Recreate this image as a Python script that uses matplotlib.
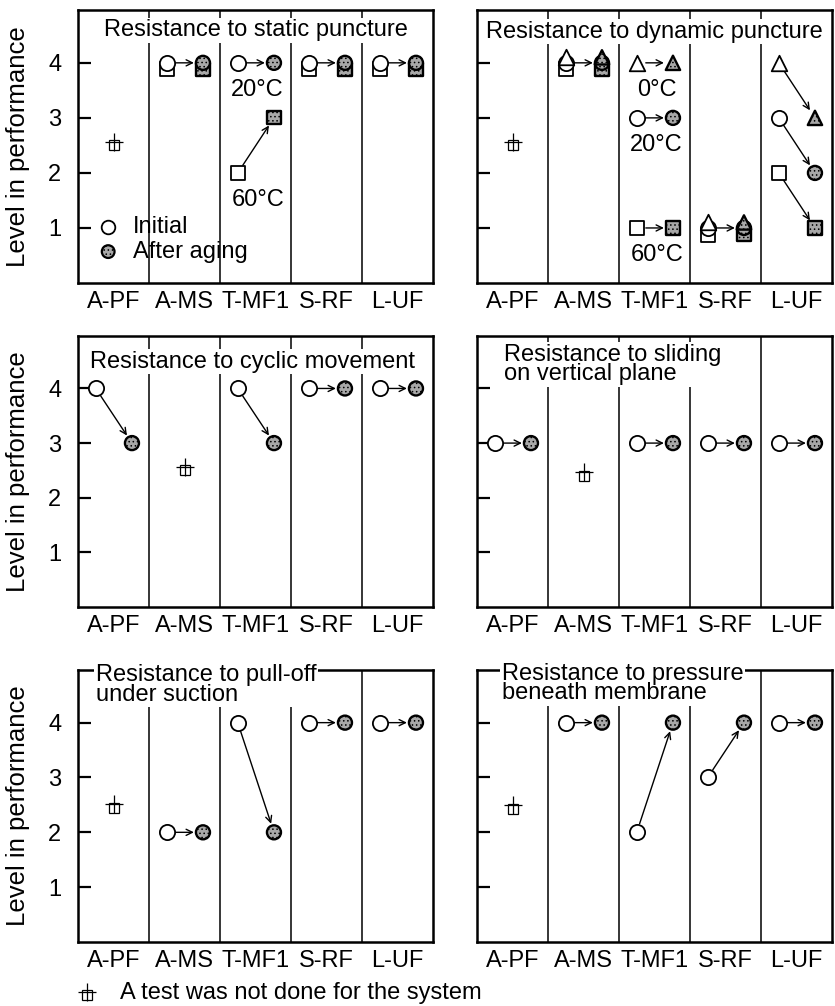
import numpy as np
import matplotlib
matplotlib.use("Agg")
import matplotlib.pyplot as plt

plt.rcParams["font.family"] = ["Liberation Sans", "DejaVu Sans"]
plt.rcParams["hatch.linewidth"] = 0.6

nan = np.nan

systems = ["A-PF", "A-MS", "T-MF1", "S-RF", "L-UF"]

titles = [
    "Resistance to static puncture",
    "Resistance to dynamic puncture",
    "Resistance to cyclic movement",
    "Resistance to sliding\non vertical plane",
    "Resistance to pull-off\nunder suction",
    "Resistance to pressure\nbeneath membrane",
]

# column where no test was done, and where its symbol sits
not_tested_col = [0, 0, 1, 1, 0, 0]
not_tested_lvl = [2.55, 2.55, 2.55, 2.45, 2.5, 2.47]

# static puncture: circle = 20 C, square = 60 C
static_circ_init = [nan, 4, 4, 4, 4]
static_circ_aged = [nan, 4, 4, 4, 4]
static_sq_init = [nan, 4, 2, 4, 4]
static_sq_aged = [nan, 4, 3, 4, 4]

# dynamic puncture: triangle = 0 C, circle = 20 C, square = 60 C
dyn_tri_init = [nan, 4, 4, 1, 4]
dyn_tri_aged = [nan, 4, 4, 1, 3]
dyn_circ_init = [nan, 4, 3, 1, 3]
dyn_circ_aged = [nan, 4, 3, 1, 2]
dyn_sq_init = [nan, 4, 1, 1, 2]
dyn_sq_aged = [nan, 4, 1, 1, 1]

cyclic_init = [4, nan, 4, 4, 4]
cyclic_aged = [3, nan, 3, 4, 4]

sliding_init = [3, nan, 3, 3, 3]
sliding_aged = [3, nan, 3, 3, 3]

pulloff_init = [nan, 2, 4, 4, 4]
pulloff_aged = [nan, 2, 2, 4, 4]

pressure_init = [nan, 4, 2, 3, 4]
pressure_aged = [nan, 4, 4, 4, 4]

panels = [
    [("o", static_circ_init, static_circ_aged), ("s", static_sq_init, static_sq_aged)],
    [("^", dyn_tri_init, dyn_tri_aged), ("o", dyn_circ_init, dyn_circ_aged),
     ("s", dyn_sq_init, dyn_sq_aged)],
    [("o", cyclic_init, cyclic_aged)],
    [("o", sliding_init, sliding_aged)],
    [("o", pulloff_init, pulloff_aged)],
    [("o", pressure_init, pressure_aged)],
]

# temperature labels: (panel, column, level, text)
temp_labels = [
    (0, 2, 3.5, "20°C"), (0, 2, 1.5, "60°C"),
    (1, 2, 3.5, "0°C"), (1, 2, 2.5, "20°C"), (1, 2, 0.5, "60°C"),
]

# styling
FS = 17
X_INIT, X_AGED = -0.25, 0.26
SIZES = {"o": 120, "s": 105, "^": 125}
STACK_OFF = {"^": 0.1, "o": 0.0, "s": -0.12}
STACK_Z = {"s": 4.0, "o": 4.3, "^": 4.6}
AGED_FC = "#a8a8a8"

fig = plt.figure(figsize=(8.35, 10.06), dpi=100)
W, H = 835.0, 1006.0
lefts = [78, 477]
rows = [(10, 283), (336, 607), (670, 942)]
axes = []
for r, (top, bot) in enumerate(rows):
    for c, lx in enumerate(lefts):
        ax = fig.add_axes([lx / W, 1 - bot / H, 355 / W, (bot - top) / H])
        axes.append(ax)


def draw_marker(ax, x, y, m, aged):
    if aged:
        ax.scatter([x], [y], s=SIZES[m] * 0.85, marker=m, facecolor=AGED_FC,
                   edgecolor="black", linewidth=1.7, hatch="....", zorder=STACK_Z[m])
    else:
        ax.scatter([x], [y], s=SIZES[m], marker=m, facecolor="white",
                   edgecolor="black", linewidth=1.3, zorder=STACK_Z[m])


def not_tested(ax, x, y, dy=(0.05, 0.02), **kw):
    ax.plot([x], [y - dy[0]], marker="s", ms=7, mfc="none", mec="black",
            mew=0.9, ls="none", zorder=4, **kw)
    ax.plot([x], [y + dy[1]], marker="+", ms=13, mec="black", mew=0.9,
            ls="none", zorder=4, **kw)


for i, ax in enumerate(axes):
    ax.set_xlim(-0.5, 4.5)
    ax.set_ylim(0, 4.96)
    for b in np.arange(0.5, 4.5, 1.0):
        ax.axvline(b, color="black", lw=1.1, zorder=1)
    for s in ax.spines.values():
        s.set_linewidth(1.8)

    ax.set_xticks(range(len(systems)))
    ax.set_xticklabels(systems, fontsize=FS)
    ax.tick_params(axis="x", length=0, pad=6)
    ax.set_yticks([1, 2, 3, 4])
    ax.tick_params(axis="y", direction="in", length=9, width=1.6,
                   labelsize=FS, pad=12)
    if i % 2 == 0:
        ax.set_ylabel("Level in performance", fontsize=18.5)
        ax.yaxis.set_label_coords(-0.135, 0.5)
    else:
        ax.set_yticklabels([])

    series = panels[i]
    for col in range(len(systems)):
        inits = [sr[1][col] for sr in series]
        ageds = [sr[2][col] for sr in series]
        drawn = set()
        for m, init, aged in series:
            y0, y1 = init[col], aged[col]
            if np.isnan(y0):
                continue
            n0 = sum(1 for v in inits if v == y0)
            n1 = sum(1 for v in ageds if v == y1)
            off0 = STACK_OFF[m] if n0 > 1 else 0.0
            off1 = STACK_OFF[m] if n1 > 1 else 0.0
            draw_marker(ax, col + X_INIT, y0 + off0, m, False)
            draw_marker(ax, col + X_AGED, y1 + off1, m, True)
            if (y0, y1) in drawn:
                continue
            drawn.add((y0, y1))
            ax.annotate("", xy=(col + X_AGED, y1), xytext=(col + X_INIT, y0),
                        arrowprops=dict(arrowstyle="->,head_length=0.45,head_width=0.22",
                                        lw=1.0, color="black", shrinkA=6.5, shrinkB=6.5),
                        zorder=3)

    not_tested(ax, not_tested_col[i], not_tested_lvl[i])

for p, col, lvl, txt in temp_labels:
    axes[p].text(col + 0.03, lvl, txt, fontsize=FS, ha="center", va="center", zorder=5)

# panel titles with white boxes masking dividers/spines
title_pos = [
    (0.5, 0.925, "center"), (0.5, 0.92, "center"), (0.035, 0.905, "left"),
    (0.075, 0.895, "left"), (0.05, 0.945, "left"), (0.07, 0.95, "left"),
]
for ax, t, (tx, ty, ha) in zip(axes, titles, title_pos):
    ax.text(tx, ty, t, transform=ax.transAxes, fontsize=FS, ha=ha, va="center",
            linespacing=0.85, zorder=6,
            bbox=dict(facecolor="white", edgecolor="none", pad=1.0))

# legend inside first panel
ax0 = axes[0]
ax0.scatter([0.085], [0.205], s=SIZES["o"] * 0.8, marker="o", facecolor="white",
            edgecolor="black", linewidth=1.3, transform=ax0.transAxes, zorder=5)
ax0.text(0.155, 0.205, "Initial", transform=ax0.transAxes, fontsize=FS, va="center")
ax0.scatter([0.085], [0.115], s=SIZES["o"] * 0.7, marker="o", facecolor=AGED_FC,
            edgecolor="black", linewidth=1.6, hatch="....", transform=ax0.transAxes,
            zorder=5)
ax0.text(0.155, 0.115, "After aging", transform=ax0.transAxes, fontsize=FS, va="center")

# footnote
ax4 = axes[4]
not_tested(ax4, 0.025, -0.188, dy=(0.008, 0.003), transform=ax4.transAxes, clip_on=False)
ax4.text(0.118, -0.188, "A test was not done for the system", transform=ax4.transAxes,
         fontsize=FS, va="center")

fig.savefig("out.png", dpi=100)
